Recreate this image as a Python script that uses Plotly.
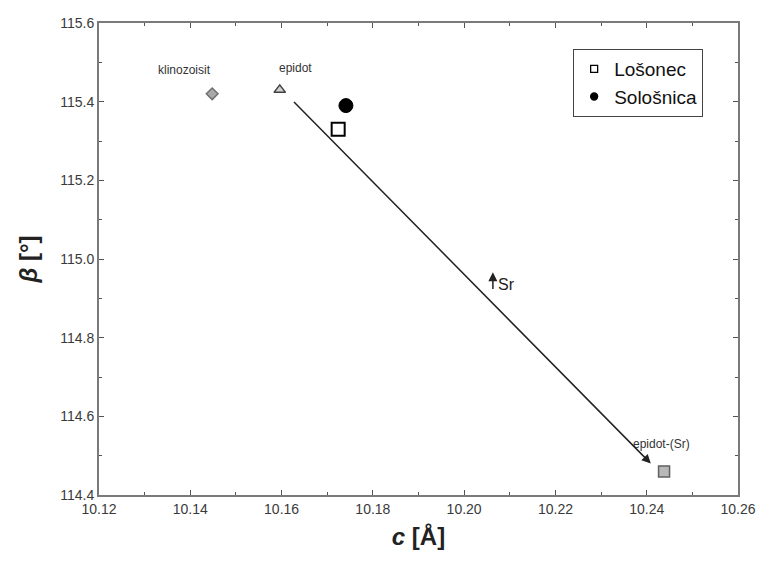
import plotly.graph_objects as go

# Reference minerals
ref_names = ["klinozoisit", "epidot", "epidot-(Sr)"]
ref_c = [10.1448, 10.1596, 10.2438]
ref_beta = [115.42, 115.43, 114.46]

# Samples
sample_names = ["Lošonec", "Sološnica"]
sample_c = [10.1724, 10.1741]
sample_beta = [115.33, 115.39]

# Trend arrow (start, end)
trend_c = [10.1624, 10.2409]
trend_beta = [115.403, 114.48]

# Sr arrow
sr_c = 10.2063
sr_beta = [114.92, 114.966]

x_ticks = [10.12, 10.14, 10.16, 10.18, 10.20, 10.22, 10.24, 10.26]
y_ticks = [114.4, 114.6, 114.8, 115.0, 115.2, 115.4, 115.6]

FONT = "Arial, Liberation Sans"
fig = go.Figure()

ref_symbols = ["diamond", "triangle-up", "square"]
ref_fill = ["#a8a8a8", "#d0d0d0", "#b8b8b8"]
ref_line = ["#707070", "#404040", "#606060"]
ref_size = [9, 10, 11]
for i in range(3):
    fig.add_trace(go.Scatter(
        x=[ref_c[i]], y=[ref_beta[i]], mode="markers", showlegend=False,
        marker=dict(symbol=ref_symbols[i], size=ref_size[i], color=ref_fill[i],
                    line=dict(color=ref_line[i], width=1.5)),
        hoverinfo="skip"))

sample_markers = [
    dict(symbol="square", color="white", line=dict(color="black", width=2)),
    dict(symbol="circle", color="black", line=dict(color="black", width=1)),
]
sample_sizes = [13, 14]
legend_sizes = [7, 7]
for i in range(2):
    fig.add_trace(go.Scatter(
        x=[sample_c[i]], y=[sample_beta[i]], mode="markers", name=sample_names[i],
        showlegend=False, marker=dict(size=sample_sizes[i], **sample_markers[i])))
for i in range(2):
    m = dict(sample_markers[i])
    m["line"] = dict(color="black", width=1.3)
    fig.add_trace(go.Scatter(
        x=[None], y=[None], mode="markers", name=sample_names[i],
        marker=dict(size=legend_sizes[i], **m)))

label_pos = [(10.1388, 115.48), (10.163, 115.485), (10.2432, 114.53)]
for name, (lx, ly) in zip(ref_names, label_pos):
    fig.add_annotation(x=lx, y=ly, text=name, showarrow=False,
                       font=dict(family=FONT, size=12, color="#333333"))

fig.add_annotation(x=trend_c[1], y=trend_beta[1], ax=trend_c[0], ay=trend_beta[0],
                   xref="x", yref="y", axref="x", ayref="y", text="",
                   showarrow=True, arrowhead=2, arrowsize=1.2, arrowwidth=1.5,
                   arrowcolor="#222222", standoff=0, startstandoff=0)
fig.add_annotation(x=sr_c, y=sr_beta[1], ax=sr_c, ay=sr_beta[0],
                   xref="x", yref="y", axref="x", ayref="y", text="",
                   showarrow=True, arrowhead=2, arrowsize=1.2, arrowwidth=1.5,
                   arrowcolor="#222222", standoff=0, startstandoff=0)
fig.add_annotation(x=sr_c, y=114.935, text="Sr", showarrow=False, xanchor="left", xshift=3,
                   font=dict(family=FONT, size=16, color="#222222"))

axis_common = dict(showline=True, linecolor="#7a7a7a", linewidth=2, mirror="ticks",
                   ticks="inside", ticklen=5, tickcolor="#555555", tickwidth=1,
                   showgrid=False, zeroline=False, automargin=False,
                   tickfont=dict(family=FONT, size=14, color="#3a3a3a"))

fig.update_xaxes(range=[10.12, 10.26], tickvals=x_ticks, tickformat=".2f",
                 minor=dict(ticks="inside", ticklen=3, dtick=0.01, tick0=10.12, tickcolor="#555555"),
                 title=dict(text="<b><i>c</i> [Å]</b>", standoff=12,
                            font=dict(family=FONT, size=24, color="#222222")),
                 **axis_common)
fig.update_yaxes(range=[114.4, 115.6], tickvals=y_ticks, tickformat=".1f",
                 minor=dict(ticks="inside", ticklen=3, dtick=0.1, tick0=114.4, tickcolor="#555555"),
                 title=dict(text="<b><i>β</i> [°]</b>", standoff=16,
                            font=dict(family=FONT, size=24, color="#222222")),
                 **axis_common)

fig.update_layout(
    width=756, height=555,
    margin=dict(l=91, r=26, t=15, b=68),
    paper_bgcolor="white", plot_bgcolor="white",
    legend=dict(x=0.742, y=0.945, xanchor="left", yanchor="top",
                bordercolor="#444444", borderwidth=1, bgcolor="white",
                font=dict(family=FONT, size=19, color="#111111"),
                tracegroupgap=0, itemwidth=30),
)

fig.write_html("out.html")
